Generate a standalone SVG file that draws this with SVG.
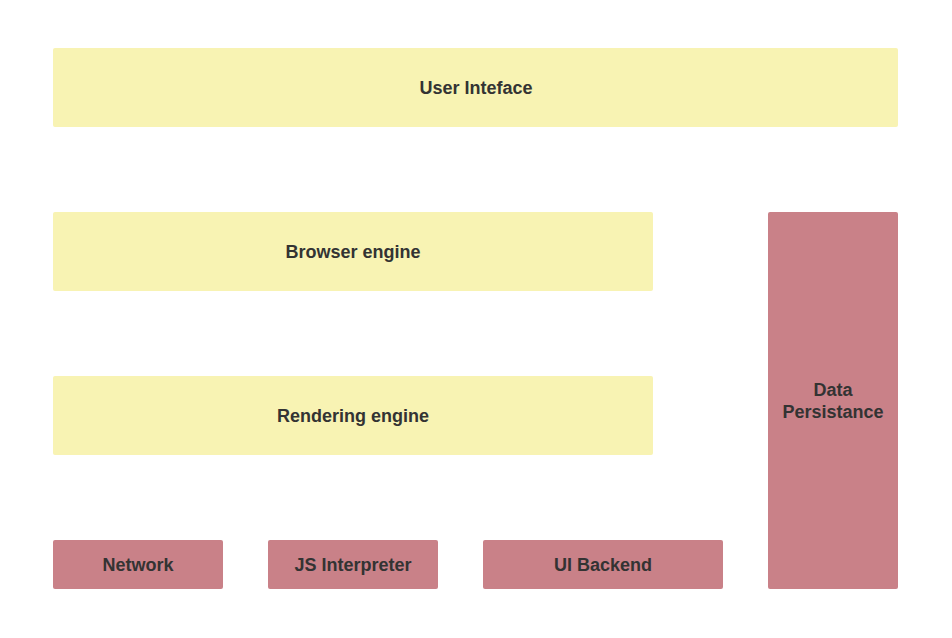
<svg xmlns="http://www.w3.org/2000/svg" width="952" height="638" viewBox="0 0 952 638">
<style>
.y{fill:#f8f3b3}
.r{fill:#c98188}
text{font-family:"Liberation Sans",Arial,sans-serif;font-weight:bold;font-size:18px;fill:#333;text-anchor:middle;dominant-baseline:central}
</style>
<rect width="952" height="638" fill="#fff"/>
<g id="user-interface"><rect class="y" x="53" y="48" width="845" height="79" rx="2"/><text x="476" y="88">User Inteface</text></g>
<g id="browser-engine"><rect class="y" x="53" y="212" width="600" height="79" rx="2"/><text x="353" y="252">Browser engine</text></g>
<g id="rendering-engine"><rect class="y" x="53" y="376" width="600" height="79" rx="2"/><text x="353" y="416">Rendering engine</text></g>
<g id="network"><rect class="r" x="53" y="540" width="170" height="49" rx="2"/><text x="138" y="565">Network</text></g>
<g id="js-interpreter"><rect class="r" x="268" y="540" width="170" height="49" rx="2"/><text x="353" y="565">JS Interpreter</text></g>
<g id="ui-backend"><rect class="r" x="483" y="540" width="240" height="49" rx="2"/><text x="603" y="565">UI Backend</text></g>
<g id="data-persistance"><rect class="r" x="768" y="212" width="130" height="377" rx="2"/><text x="833" y="390">Data</text><text x="833" y="412">Persistance</text></g>
<g id="connectors"></g>
</svg>
